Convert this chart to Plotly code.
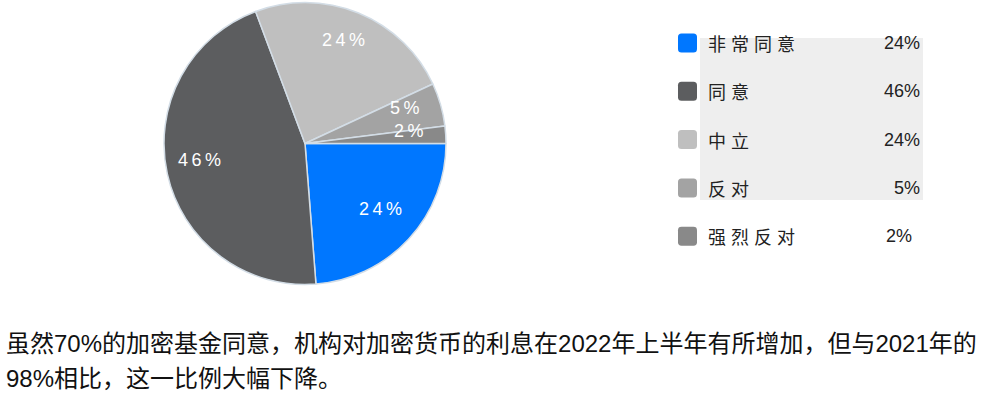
import math
import plotly.graph_objects as go

# ---- data ----
categories = ["非常同意", "同意", "中立", "反对", "强烈反对"]
values = [24, 46, 24, 5, 2]
colors = ["#0077ff", "#5c5d5f", "#bfbfbf", "#a3a3a3", "#898989"]
caption_lines = [
    "虽然70%的加密基金同意，机构对加密货币的利息在2022年上半年有所增加，但与2021年的",
    "98%相比，这一比例大幅下降。",
]

W, H = 987, 394
CX, CY, R = 305.0, 143.5, 141.0


def px(x):
    return x / W


def py(y):
    return 1 - y / H


def spaced(text, ls):
    return f'<span style="letter-spacing:{ls}px">{text}</span>'


fig = go.Figure()
fig.add_trace(go.Pie(
    labels=categories,
    values=values,
    sort=False,
    direction="clockwise",
    rotation=90,
    marker=dict(colors=colors, line=dict(color="#d3dde6", width=1.5)),
    textinfo="none",
    showlegend=False,
    domain=dict(x=[px(CX - R), px(CX + R)], y=[py(CY + R), py(CY - R)]),
))

annotations = []
shapes = []

# slice labels placed at the mid-angle of each slice (from the data)
total = sum(values)
cum = 0.0
for v in values:
    mid = (cum + v / 2) / total * 2 * math.pi  # clockwise from 3 o'clock
    cum += v
    lx = CX + 0.75 * R * math.cos(mid)
    ly = CY + 0.75 * R * math.sin(mid) - 6
    annotations.append(dict(
        x=px(lx), y=py(ly), xref="paper", yref="paper",
        text=spaced(f"{v}%", 3.5), showarrow=False,
        font=dict(family="Liberation Sans, Arial", size=18, color="white"),
        xanchor="center", yanchor="middle",
    ))

# custom legend
shapes.append(dict(type="rect", xref="paper", yref="paper",
                   x0=px(700), x1=px(923), y0=py(200), y1=py(38),
                   fillcolor="#eeeeee", line=dict(width=0), layer="below"))


def rounded_rect(x0, y0, x1, y1, r):
    X = lambda v: f"{px(v):.5f}"
    Y = lambda v: f"{py(v):.5f}"
    return (f"M {X(x0 + r)},{Y(y0)} L {X(x1 - r)},{Y(y0)} Q {X(x1)},{Y(y0)} {X(x1)},{Y(y0 + r)} "
            f"L {X(x1)},{Y(y1 - r)} Q {X(x1)},{Y(y1)} {X(x1 - r)},{Y(y1)} "
            f"L {X(x0 + r)},{Y(y1)} Q {X(x0)},{Y(y1)} {X(x0)},{Y(y1 - r)} "
            f"L {X(x0)},{Y(y0 + r)} Q {X(x0)},{Y(y0)} {X(x0 + r)},{Y(y0)} Z")


pct_right = [922, 922, 922, 922, 914]
for i, (cat, v, c) in enumerate(zip(categories, values, colors)):
    yc = 43 + i * 48.3
    shapes.append(dict(type="path", xref="paper", yref="paper",
                       path=rounded_rect(678, yc - 9.5, 697, yc + 9.5, 3.5),
                       fillcolor=c, line=dict(width=0)))
    annotations.append(dict(
        x=px(706), y=py(yc), xref="paper", yref="paper", text=spaced(cat, 5),
        showarrow=False, xanchor="left", yanchor="middle",
        font=dict(family="Noto Sans CJK SC", size=18, color="#222222"),
    ))
    annotations.append(dict(
        x=px(pct_right[i]), y=py(yc), xref="paper", yref="paper", text=f"{v}%",
        showarrow=False, xanchor="right", yanchor="middle",
        font=dict(family="Liberation Sans, Arial", size=18, color="#222222"),
    ))

# caption
for j, line in enumerate(caption_lines):
    annotations.append(dict(
        x=px(4), y=py(343 + j * 35), xref="paper", yref="paper", text=line,
        showarrow=False, xanchor="left", yanchor="middle",
        font=dict(family="Liberation Sans, Noto Sans CJK SC", size=24, color="#111111"),
    ))

fig.update_layout(
    width=W, height=H,
    margin=dict(l=0, r=0, t=0, b=0),
    paper_bgcolor="white", plot_bgcolor="white",
    annotations=annotations, shapes=shapes,
)
fig.write_html("out.html")
